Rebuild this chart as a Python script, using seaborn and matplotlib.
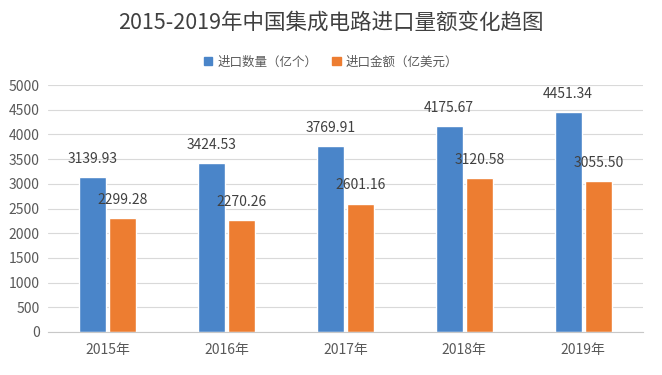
import pandas as pd
import seaborn as sns
import matplotlib.pyplot as plt
from matplotlib.patches import Patch

years = ['2015年', '2016年', '2017年', '2018年', '2019年']
quantity = [3139.93, 3424.53, 3769.91, 4175.67, 4451.34]
amount = [2299.28, 2270.26, 2601.16, 3120.58, 3055.50]
series = ['进口数量（亿个）', '进口金额（亿美元）']
colors = ['#4a85c9', '#ed7d31']

df = pd.DataFrame({
    'year': years * 2,
    'value': quantity + amount,
    'series': [series[0]] * len(years) + [series[1]] * len(years),
})

sns.set_style('white')
plt.rcParams['font.family'] = ['Noto Sans CJK SC', 'DejaVu Sans']

fig = plt.figure(figsize=(6.62, 3.75), dpi=100)
ax = fig.add_axes([0.0725, 0.1147, 0.8985, 0.6586])

sns.barplot(data=df, x='year', y='value', hue='series', order=years,
            hue_order=series, palette=colors,
            width=0.51, gap=0.1, ax=ax, legend=False, saturation=1)

for cont in ax.containers:
    ax.bar_label(cont, fmt='%.2f', padding=8, fontsize=10, color='#404040')

ax.set_ylim(0, 5000)
ax.set_yticks(range(0, 5001, 500))
ax.set_xlim(-0.5, 4.5)
ax.yaxis.grid(True, color='#d9d9d9', linewidth=0.8)
ax.set_axisbelow(True)
for s in ['top', 'right', 'left']:
    ax.spines[s].set_visible(False)
ax.spines['bottom'].set_color('#c8c8c8')
ax.tick_params(axis='both', length=0, labelsize=10, colors='#595959')
ax.tick_params(axis='y', pad=6)
ax.tick_params(axis='x', pad=8)
ax.set_xlabel('')
ax.set_ylabel('')

fig.text(0.5, 0.94, '2015-2019年中国集成电路进口量额变化趋图', ha='center', va='center',
         fontsize=15.5, color='#404040')

handles = [Patch(color=c) for c in colors]
fig.legend(handles, series, loc='center', bbox_to_anchor=(0.5, 0.835), ncol=2,
           frameon=False, fontsize=9, handlelength=0.7, handleheight=0.7,
           columnspacing=1.2, handletextpad=0.4, labelcolor='#595959')

fig.savefig('out.png', dpi=100)
